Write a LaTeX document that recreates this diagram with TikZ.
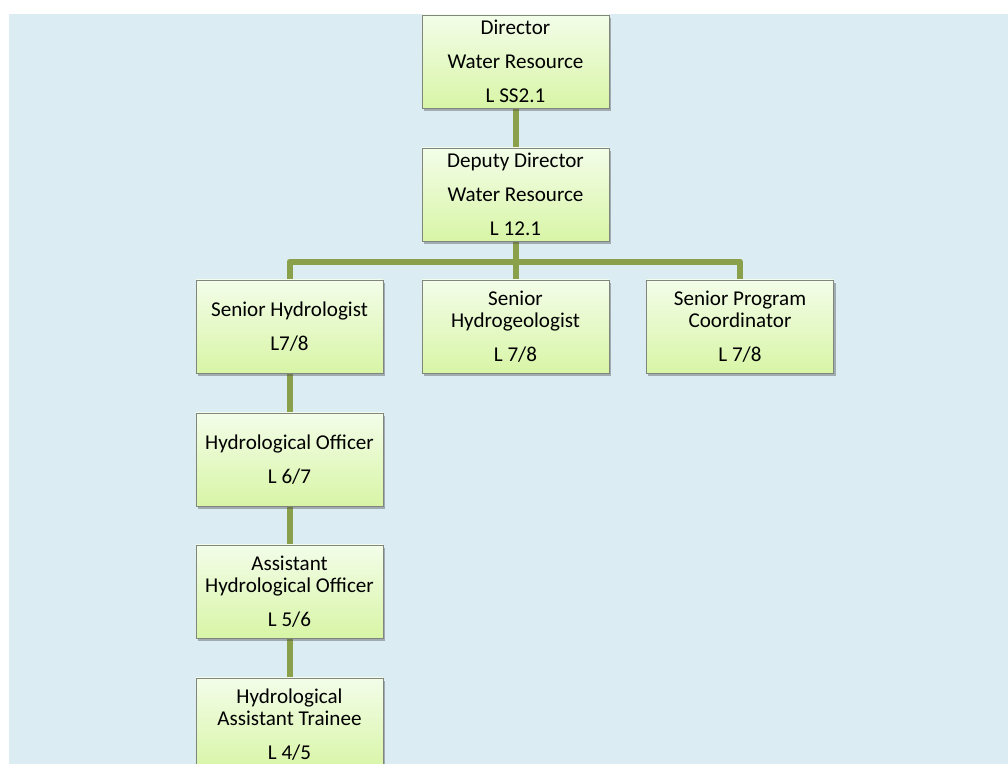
\documentclass[tikz,border=0pt]{standalone}
\usepackage{fontspec}
\setmainfont{Carlito}
\usetikzlibrary{shadows, backgrounds, calc}
\definecolor{azulfondo}{HTML}{DBECF3}
\definecolor{verdeclaro}{HTML}{F3FDE9}
\definecolor{verdelima}{HTML}{D8F5A6}
\definecolor{verdeolivo}{HTML}{8AA04B}
\definecolor{grisborde}{HTML}{80867E}
\colorlet{colFondo}{azulfondo}
\colorlet{colLinea}{verdeolivo}
\tikzset{
  cajaCargo/.style={
    draw=grisborde, line width=0.6pt,
    top color=verdeclaro, bottom color=verdelima,
    minimum width=4.675cm, minimum height=2.325cm, inner sep=0pt,
    align=center, font=\fontsize{15}{15.6}\selectfont, text=black,
    drop shadow={shadow xshift=0.05cm, shadow yshift=-0.08cm,
      opacity=0.4, fill=black!70}
  },
  lineaMando/.style={line width=0.15cm, colLinea, line join=round},
}
\begin{document}
\begin{tikzpicture}[x=0.025cm, y=-0.025cm]
  \useasboundingbox (0,0) rectangle (1008,764);
  % cargos
  \node[cajaCargo] (dir) at (515.5,61.5) {Director\\[8.5pt]Water Resource\\[8.5pt]L SS2.1};
  \node[cajaCargo] (dep) at (515.5,194.5) {Deputy Director\\[8.5pt]Water Resource\\[8.5pt]L 12.1};
  \node[cajaCargo] (hidro) at (289.5,326.5) {Senior Hydrologist\\[8.5pt]L7/8};
  \node[cajaCargo] (hgeo) at (515.5,326.5) {Senior\\Hydrogeologist\\[8.5pt]L 7/8};
  \node[cajaCargo] (coord) at (740,326.5) {Senior Program\\Coordinator\\[8.5pt]L 7/8};
  \node[cajaCargo] (ofic) at (289.5,459.5) {Hydrological Officer\\[8.5pt]L 6/7};
  \node[cajaCargo] (asis) at (289.5,591.5) {Assistant\\Hydrological Officer\\[8.5pt]L 5/6};
  \node[cajaCargo] (apre) at (289.5,724.5) {Hydrological\\Assistant Trainee\\[8.5pt]L 4/5};
  % fondo y lineas de mando
  \begin{scope}[on background layer]
    \fill[colFondo] (9,14) rectangle (1008,764);
    \coordinate (bus) at (515.5,261.5);
    \draw[lineaMando] (dir) -- (dep);
    \draw[lineaMando] (dep.south) -- (bus);
    \draw[lineaMando] (hidro.north) |- (bus) -| (coord.north);
    \draw[lineaMando] (bus) -- (hgeo.north);
    \draw[lineaMando] (hidro) -- (ofic);
    \draw[lineaMando] (ofic) -- (asis);
    \draw[lineaMando] (asis) -- (apre);
  \end{scope}
\end{tikzpicture}
\end{document}
